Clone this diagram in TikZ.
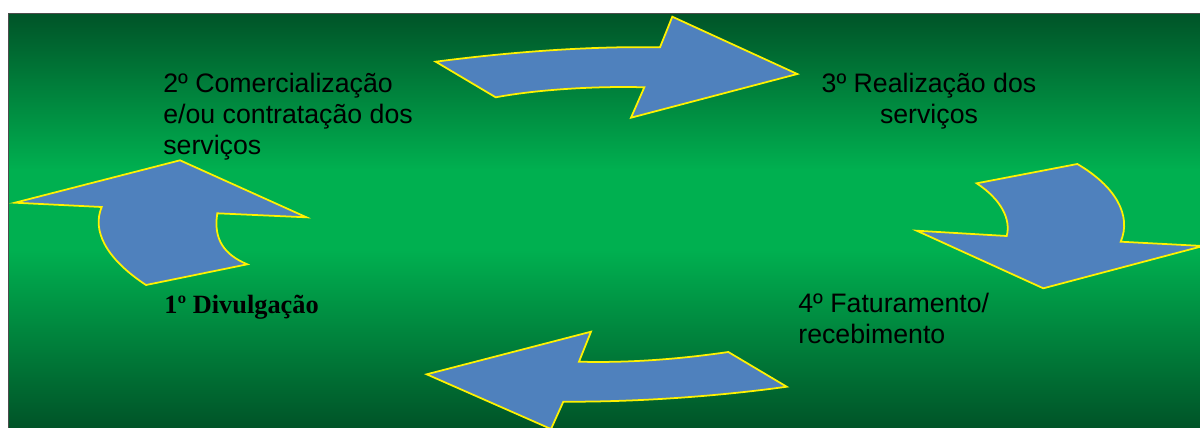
\documentclass[tikz,border=0pt]{standalone}
\usepackage{fontspec}
\setmainfont{Liberation Sans}
\newfontfamily\timesfont{Liberation Serif}
\definecolor{dkgreen}{RGB}{0,84,40}
\definecolor{ltgreen}{RGB}{0,176,80}
\definecolor{arrowblue}{RGB}{79,129,189}
\tikzset{
  cyc/.style={fill=arrowblue,draw=yellow,line width=1pt,line join=miter},
  lbl/.style={font=\fontsize{15.2}{17.5}\selectfont,inner sep=0pt,anchor=base west,align=left},
}
\begin{document}
\begin{tikzpicture}[x=0.02cm,y=-0.02cm]
  \useasboundingbox (0,0) rectangle (1200,427);
  \clip (0,0) rectangle (1200,427);
  % background, dark - bright - dark
  \shade[top color=dkgreen,bottom color=ltgreen] (8,13.5) rectangle (1200,170);
  \fill[ltgreen] (8,169) rectangle (1200,251);
  \shade[top color=ltgreen,bottom color=dkgreen] (8,250) rectangle (1200,427);
  \draw[black!70,line width=0.6pt] (8.3,440) -- (8.3,13.5) -- (1210,13.5);
  % the four cycle arrows
  \draw[cyc] (435.7,61.7) .. controls (510,52) and (590,46) .. (660,47.3)
    -- (672.3,16.7) -- (797.3,74) -- (631,117.7) -- (644.3,87.3)
    .. controls (600,86) and (540,89) .. (495.7,97.3) -- cycle;
  \draw[cyc] (976.7,183.3) -- (1077.3,164) .. controls (1115,186) and (1132,215) .. (1120.7,241.7)
    -- (1203,246) -- (1043.3,288.3) -- (916.7,230.7) -- (1006.7,236)
    .. controls (1011,220) and (1002,200) .. cycle;
  \draw[cyc] (426.7,374.3) -- (591,331.7) -- (579,361.7) .. controls (630,363) and (680,359) .. (728.3,352)
    -- (786.7,386.7) .. controls (720,396) and (640,402) .. (563.3,401.7)
    -- (551,429) -- cycle;
  \draw[cyc] (15,202.7) -- (180,160.3) -- (306.5,217.3) -- (217.3,213.3)
    .. controls (213,240) and (225,255) .. (247.3,264.3) -- (146,285)
    .. controls (105,258) and (92,230) .. (101.7,207) -- cycle;
  % stage labels (base = last line)
  \node[lbl] (com) at (163,154.3) {2º Comercialização\\e/ou contratação dos\\serviços};
  \node[lbl,anchor=base,align=center] (rea) at (929,123.3) {3º Realização dos\\serviços};
  \node[lbl] (fat) at (798,343.3) {4º Faturamento/\\recebimento};
  \node[lbl,font=\timesfont\bfseries\fontsize{15}{17}\selectfont] (div) at (164,313.3) {1º Divulgação};
\end{tikzpicture}
\end{document}
